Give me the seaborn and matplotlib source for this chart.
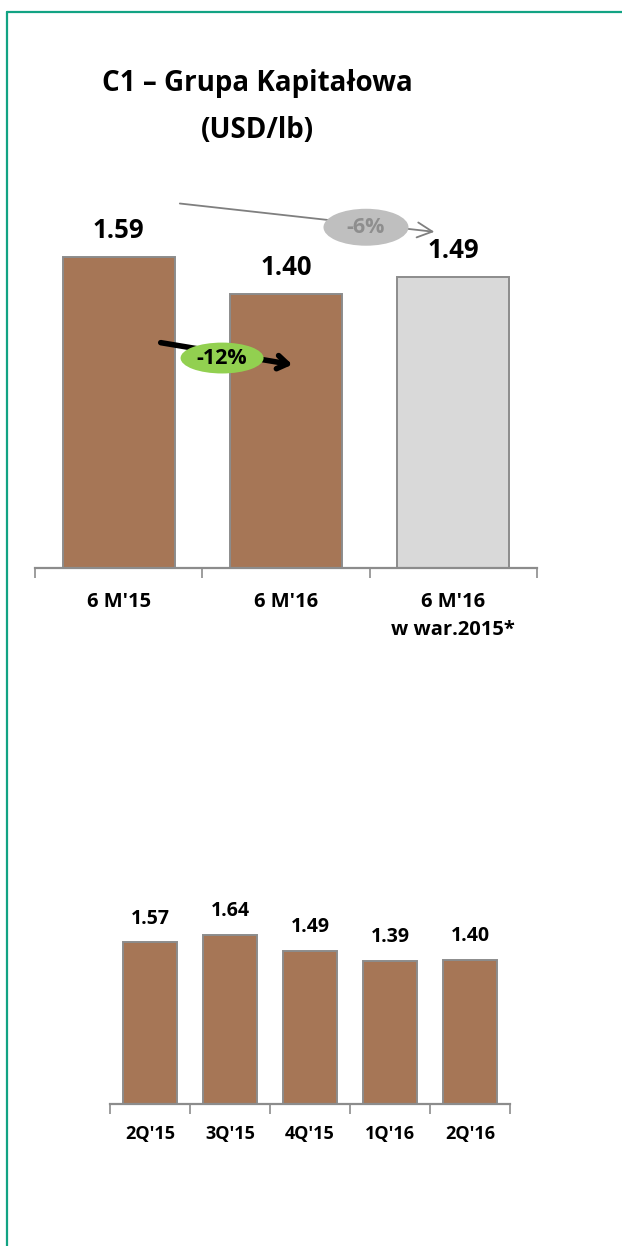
import matplotlib
matplotlib.use("Agg")
import matplotlib.pyplot as plt
from matplotlib.patches import Ellipse
from matplotlib.lines import Line2D
import seaborn as sns
import pandas as pd

# Half-year C1 cost
half_categories = ["6 M'15", "6 M'16", "6 M'16\nw war.2015*"]
half_values = [1.59, 1.40, 1.49]
half_colors = ["#A67656", "#A67656", "#D9D9D9"]

# Quarterly C1 cost
quarter_categories = ["2Q'15", "3Q'15", "4Q'15", "1Q'16", "2Q'16"]
quarter_values = [1.57, 1.64, 1.49, 1.39, 1.40]
quarter_color = "#A67656"

title_line1 = "C1 – Grupa Kapitałowa"
title_line2 = "(USD/lb)"
change_yoy = "-12%"
change_base = "-6%"

sns.set_theme(style="white")
plt.rcParams["font.family"] = ["Open Sans", "DejaVu Sans"]
plt.rcParams["font.weight"] = "bold"
plt.rcParams["text.color"] = "black"
plt.rcParams["xtick.color"] = "black"

W, H = 622, 1246
fig = plt.figure(figsize=(W / 100, H / 100), dpi=100)
fig.patch.set_facecolor("white")

EDGE = "#8C8C8C"


def px_axes(left, top, right, bottom):
    return fig.add_axes([left / W, 1 - bottom / H, (right - left) / W, (bottom - top) / H])


def style_axis(ax, n, pad, size):
    ax.set_xlim(-0.5, n - 0.5)
    ax.set_ylim(0, 2.0)
    for side in ("left", "top", "right"):
        ax.spines[side].set_visible(False)
    ax.spines["bottom"].set_color(EDGE)
    ax.spines["bottom"].set_linewidth(1.6)
    ax.set_yticks([])
    ax.set_xticks(range(n))
    ax.set_xticks([i - 0.5 for i in range(n + 1)], minor=True)
    ax.tick_params(axis="x", which="major", length=0, pad=pad, labelsize=size,
                   labelcolor="black")
    ax.tick_params(axis="x", which="minor", length=7, width=1.2, color=EDGE,
                   direction="out", bottom=True)
    for lab in ax.get_xticklabels():
        lab.set_fontweight("bold")
        lab.set_linespacing(1.55)
    ax.set_xlabel("")
    ax.set_ylabel("")
    ax.set_facecolor("white")


# ---- top: half-year comparison ----
ax1 = px_axes(35, 177, 537, 568)
df1 = pd.DataFrame({"cat": half_categories, "val": half_values})
sns.barplot(data=df1, x="cat", y="val", hue="cat", palette=half_colors,
            width=0.67, edgecolor=EDGE, linewidth=1.4, legend=False, ax=ax1,
            saturation=1)
style_axis(ax1, len(half_categories), pad=17, size=14.5)
for i, v in enumerate(half_values):
    ax1.annotate(f"{v:.2f}", (i, v), xytext=(0, 19), textcoords="offset points",
                 ha="center", va="center", fontsize=18.5, fontweight="bold",
                 color="black")

# change vs comparable base (grey)
ax1.annotate("", xy=(1.903, 1.718), xytext=(0.349, 1.866),
             arrowprops=dict(arrowstyle="->,head_length=0.9,head_width=0.45",
                             color="#7F7F7F", lw=1.3), annotation_clip=False)
ax1.add_patch(Ellipse((1.478, 1.743), 0.508, 0.189, facecolor="#BFBFBF",
                      edgecolor="none", zorder=5, clip_on=False))
ax1.text(1.478, 1.743, change_base, ha="center", va="center", fontsize=15.5,
         fontweight="bold", color="#8E8E8E", zorder=6)

# year-over-year change (green)
ax1.annotate("", xy=(1.054, 1.038), xytext=(0.235, 1.155),
             arrowprops=dict(arrowstyle="->,head_length=0.6,head_width=0.4",
                             color="black", lw=4.0), annotation_clip=False)
ax1.add_patch(Ellipse((0.618, 1.074), 0.496, 0.158, facecolor="#92D050",
                      edgecolor="none", zorder=5))
ax1.text(0.618, 1.074, change_yoy, ha="center", va="center", fontsize=15.5,
         fontweight="bold", color="black", zorder=6)

# ---- bottom: quarterly ----
ax2 = px_axes(110, 898, 510, 1104)
df2 = pd.DataFrame({"cat": quarter_categories, "val": quarter_values})
sns.barplot(data=df2, x="cat", y="val", color=quarter_color, width=0.675,
            edgecolor=EDGE, linewidth=1.4, ax=ax2, saturation=1)
style_axis(ax2, len(quarter_categories), pad=15, size=13)
for i, v in enumerate(quarter_values):
    ax2.annotate(f"{v:.2f}", (i, v), xytext=(0, 17), textcoords="offset points",
                 ha="center", va="center", fontsize=14, fontweight="bold",
                 color="black")

# ---- title ----
fig.text(257 / W, 1 - 84 / H, title_line1, ha="center", va="center",
         fontsize=20, fontweight="bold", color="black")
fig.text(257 / W, 1 - 130 / H, title_line2, ha="center", va="center",
         fontsize=20, fontweight="bold", color="black")

# ---- frame ----
frame = "#12A383"
fig.add_artist(Line2D([7 / W, 1], [1 - 12 / H, 1 - 12 / H], color=frame, lw=1.6))
fig.add_artist(Line2D([7 / W, 7 / W], [0, 1 - 12 / H], color=frame, lw=1.6))

fig.savefig("out.png", dpi=100, facecolor="white")
